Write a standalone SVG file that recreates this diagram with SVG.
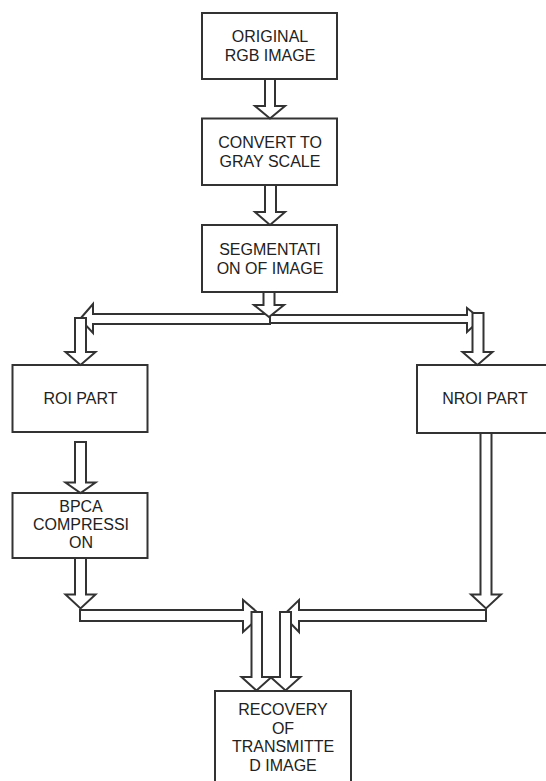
<svg xmlns="http://www.w3.org/2000/svg" width="546" height="781" viewBox="0 0 546 781">
<style>
.box{fill:#fff;stroke:#333;stroke-width:2}
.arr{fill:#fff;stroke:#333;stroke-width:2;stroke-linejoin:miter}
text{font-family:"Liberation Sans",Arial,sans-serif;font-size:16px;fill:#222;text-anchor:middle}
</style>
<rect width="546" height="781" fill="#fff"/>
<g id="n1"><rect class="box" x="202" y="13" width="135" height="66"/><text x="270" y="41.5">ORIGINAL</text><text x="270" y="60.5">RGB IMAGE</text></g>
<g id="n2"><rect class="box" x="202" y="118.5" width="135" height="66.5"/><text x="270" y="147.5">CONVERT TO</text><text x="270" y="166.5">GRAY SCALE</text></g>
<g id="n3"><rect class="box" x="202" y="225" width="135" height="67"/><text x="270" y="255">SEGMENTATI</text><text x="270" y="273.5">ON OF IMAGE</text></g>
<g id="n4"><rect class="box" x="12.5" y="365" width="135" height="67"/><text x="80.5" y="404.3">ROI PART</text></g>
<g id="n5"><rect class="box" x="417" y="365" width="135" height="68"/><text x="485" y="404.3">NROI PART</text></g>
<g id="n6"><rect class="box" x="12.5" y="493" width="135" height="65"/><text x="81" y="511.7">BPCA</text><text x="81" y="530">COMPRESSI</text><text x="81" y="548.3">ON</text></g>
<g id="n7"><rect class="box" x="215" y="691" width="136" height="100"/><text x="283" y="715">RECOVERY</text><text x="283" y="733.5">OF</text><text x="283" y="752">TRANSMITTE</text><text x="283" y="770.5">D IMAGE</text></g>
<g id="connectors">
<polygon class="arr" points="265,79 275,79 275,106 285,106 270,118.5 255,106 265,106"/>
<polygon class="arr" points="265,185 276,185 276,212 285,212 270,225 255,212 265,212"/>
<polygon class="arr" points="270,315 467,315 467,308 481,319 467,332 467,323 270,323"/>
<polygon class="arr" points="270,314 93,314 93,304 80,319 93,333 93,324 270,324"/>
<polygon class="arr" points="263.5,292 274.5,292 274.5,305 284,305 269,317 254,305 263.5,305"/>
<polygon class="arr" points="75,318 86,318 86,352 95.5,352 80.5,365 65.5,352 75,352"/>
<polygon class="arr" points="472.5,313 483.5,313 483.5,352 492.5,352 477.5,365 462.5,352 472.5,352"/>
<polygon class="arr" points="75,442 86,442 86,482.5 95.5,482.5 80.5,493 65.5,482.5 75,482.5"/>
<polygon class="arr" points="75,558 86,558 86,594.5 95.5,594.5 80.5,608.5 65.5,594.5 75,594.5"/>
<polygon class="arr" points="480.5,433 491.5,433 491.5,594.5 501,594.5 486,608.5 471,594.5 480.5,594.5"/>
<polygon class="arr" points="80,610 243,610 243,600 261,615.5 243,632 243,621 80,621"/>
<polygon class="arr" points="486,610 299,610 299,600 283,615.5 299,632 299,621 486,621"/>
<polygon class="arr" points="251.5,612 262,612 262,677 271.5,677 256.5,690.5 241.5,677 251.5,677"/>
<polygon class="arr" points="280,612 291,612 291,677 300.5,677 285.5,690.5 270.5,677 280,677"/>
</g>
</svg>
